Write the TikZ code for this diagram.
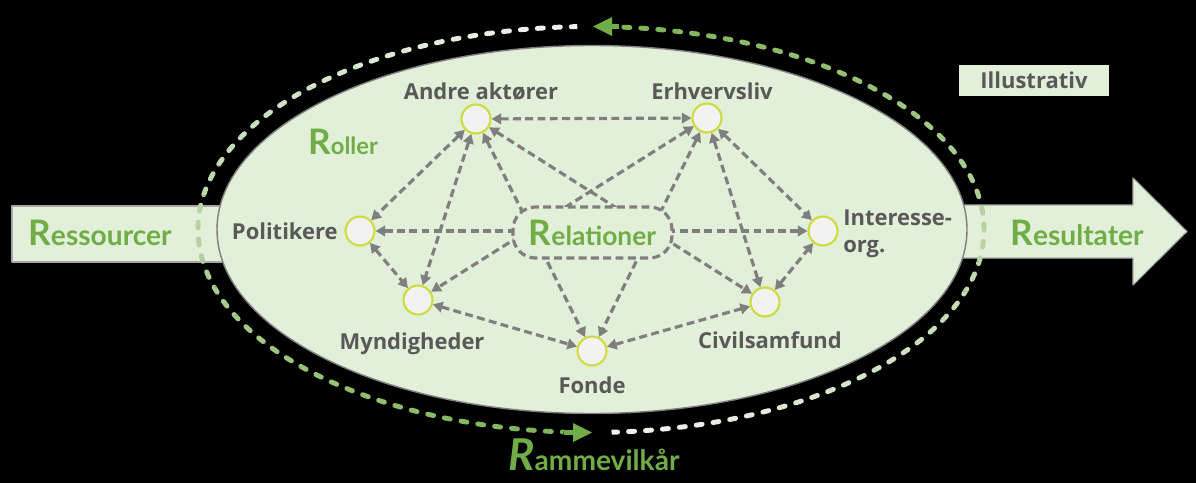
\documentclass[tikz,border=0pt]{standalone}
\usepackage{fontspec}
\setmainfont{Lato}
\newfontfamily\labelfont{Open Sans}
\usetikzlibrary{arrows.meta,positioning}

\definecolor{rgreen}{HTML}{70AD47}
\definecolor{rpale}{HTML}{E2EFD9}
\definecolor{rwhite}{HTML}{EEF3EA}
\definecolor{rgray}{HTML}{7F7F7F}
\definecolor{rtext}{HTML}{595959}
\definecolor{rring}{HTML}{CDDC3B}
\definecolor{rdot}{HTML}{F2F2F2}

\newcommand{\bigR}[2]{{\fontsize{20}{20}\selectfont R}{\fontsize{#1}{#1}\selectfont #2}}

\tikzset{
  panel/.style={draw=black!35, fill=rpale, line width=0.6pt},
  actor/.style={circle, draw=rring, fill=rdot, line width=1.2pt, minimum size=0.58cm, inner sep=0pt},
  lbl/.style={text=rtext, font=\labelfont\bfseries\fontsize{12.5}{15.4}\selectfont, inner sep=0pt},
  rword/.style={text=rgreen, font=\bfseries, inner sep=0pt},
  rel/.style={rgray, line width=1.8pt, dash pattern=on 4.5pt off 2.5pt, <->},
  relbox/.style={draw=rgray, fill=rpale, text=rgreen, font=\bfseries, line width=1.8pt, dash pattern=on 4.5pt off 2.5pt, rounded corners=0.45cm, minimum width=3.18cm, minimum height=1.02cm, inner sep=0pt},
  rim/.style={line width=2.8pt, line cap=round, dash pattern=on 0.12cm off 0.22cm},
  tagbox/.style={fill=rpale, minimum width=3cm, minimum height=0.64cm}
}

\begin{document}
\begin{tikzpicture}[x=0.02cm, y=-0.02cm, line join=round, >={Triangle[length=5.5pt,width=6pt]}]
  % background
  \useasboundingbox (0,0) rectangle (1196,483);
  \fill[black] (0,0) rectangle (1196,483);
  % in and out
  \draw[panel] (12,206) rectangle (250,262);
  \draw[panel] (930,205) -- (1133,205) -- (1133,178) -- (1187,231.5) -- (1133,285) -- (1133,258) -- (930,258) -- cycle;
  % outer cycle, pale to green
  \coordinate (oc) at (591,229.5);
  \foreach \st/\en in {268/94, 87/-86}{
    \foreach \i in {0,...,19}{
      \pgfmathsetmacro\pc{4.7*\i}
      \pgfmathsetmacro\angA{\st+(\en-\st)*\i/20}
      \pgfmathsetmacro\angB{\st+(\en-\st)*(\i+1)/20}
      \begin{scope}[shift={(oc)}]
        \clip (0,0) -- (\angA:786 and 406) -- (\angB:786 and 406) -- cycle;
        \draw[rim, rgreen!\pc!rwhite] (\st:393 and 203) arc[start angle=\st, end angle=\en, x radius=393, y radius=203];
      \end{scope}
    }
  }
  \fill[rgreen] (593,26.5) -- (612,17) -- (612,36) -- cycle;
  \draw[rgreen, line width=2.8pt] (610,26.5) -- (619,26.5);
  \fill[rgreen] (592,432.5) -- (573,423) -- (573,442) -- cycle;
  \draw[rgreen, line width=2.8pt] (564,432.5) -- (575,432.5);
  % main field
  \draw[rgray, fill=rpale, line width=0.8pt] (592,229.5) ellipse [x radius=375, y radius=184];
  % actors
  \node[actor] (andre) at (476,119) {};
  \node[actor] (erhv) at (707,118) {};
  \node[actor] (polit) at (360,231) {};
  \node[actor] (mynd) at (418,300) {};
  \node[actor] (fonde) at (592,351) {};
  \node[actor] (civil) at (765,302) {};
  \node[actor] (inter) at (823,231) {};
  \foreach \u/\v in {andre/erhv, andre/polit, andre/mynd, andre/fonde, andre/civil,
                     erhv/mynd, erhv/fonde, erhv/civil, erhv/inter, polit/inter,
                     polit/mynd, mynd/fonde, fonde/civil, civil/inter}
    \draw[rel] (\u) -- (\v);
  \node[relbox] (relat) at (592.5,232.5) {\bigR{15}{elationer}};
  % labels
  \node[lbl, anchor=base] (andreL) at (481,99) {Andre aktører};
  \node[lbl, anchor=base] (erhvL) at (712,99) {Erhvervsliv};
  \node[lbl, anchor=base east] (politL) at (338,239) {Politikere};
  \node[lbl, anchor=base] (myndL) at (412,349) {Myndigheder};
  \node[lbl, anchor=base] (fondeL) at (592,393) {Fonde};
  \node[lbl, anchor=base] (civilL) at (770,348) {Civilsamfund};
  \node[lbl, anchor=north west, align=left] (interL) at (843,209) {Interesse-\\org.};
  \node[lbl, tagbox] (illu) at (1034,80.5) {Illustrativ};
  % the R words
  \node[rword, anchor=base] (ress) at (100,245) {\bigR{16}{essourcer}};
  \node[rword, anchor=base] (resu) at (1077,245) {\bigR{16}{esultater}};
  \node[rword, anchor=base west] (roll) at (308,154) {\bigR{13.5}{oller}};
  \node[rword, anchor=base west] (ramme) at (508,470) {{\itshape\fontsize{25}{25}\selectfont R}{\fontsize{16}{16}\selectfont ammevilkår}};
\end{tikzpicture}
\end{document}
